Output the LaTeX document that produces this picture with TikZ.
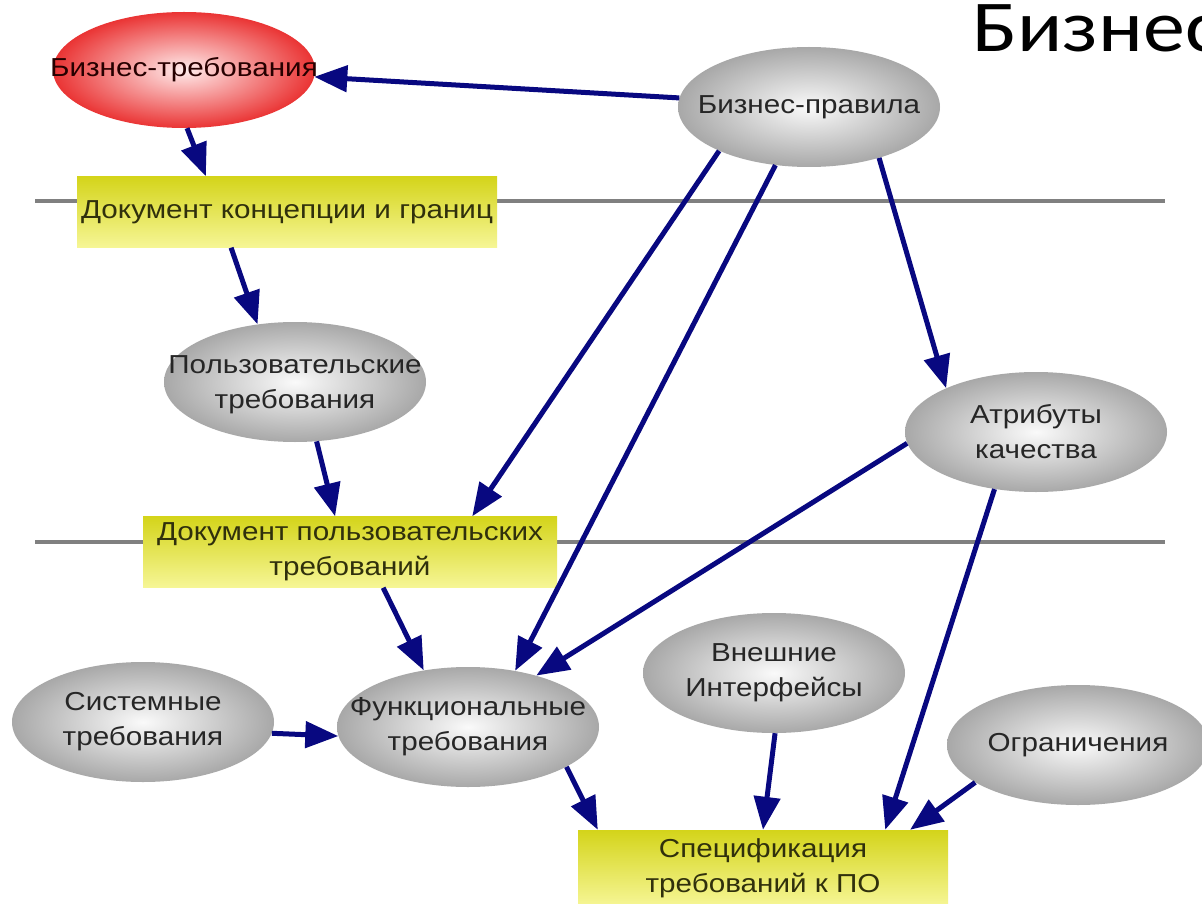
\documentclass[tikz,border=0pt]{standalone}
\usepackage{fontspec}
\setmainfont[FakeStretch=1.14]{Liberation Sans}
\newfontfamily\titlefont[FakeStretch=1.15]{Carlito}
\usetikzlibrary{shapes.geometric,arrows.meta,calc}
\definecolor{arrc}{RGB}{8,8,128}
\definecolor{sepc}{RGB}{128,128,128}
\definecolor{txtc}{RGB}{38,38,38}
\definecolor{boxtxt}{RGB}{48,48,12}
\definecolor{yla}{RGB}{212,212,26}
\definecolor{ylb}{RGB}{246,246,150}
\definecolor{grin}{RGB}{250,250,250}
\definecolor{grout}{RGB}{168,168,168}
\definecolor{rdin}{RGB}{255,236,236}
\definecolor{rdout}{RGB}{234,52,52}
\tikzset{
  grayell/.style={ellipse, minimum width=262pt, minimum height=120pt, inner sep=0pt,
    shading=radial, inner color=grin, outer color=grout},
  redell/.style={ellipse, minimum width=262pt, minimum height=116pt, inner sep=0pt,
    shading=radial, inner color=rdin, outer color=rdout},
  ybox/.style={rectangle, inner sep=0pt, top color=yla, bottom color=ylb,
    font=\fontsize{26}{35}\selectfont, text=boxtxt, align=center},
  lbl/.style={inner sep=0pt, font=\fontsize{26}{35}\selectfont, text=txtc, align=center},
  sepline/.style={draw=sepc, line width=4.5pt},
  conn/.style={draw=arrc, line width=5pt, -{Triangle[length=33pt,width=26pt]}},
}
\begin{document}
\begin{tikzpicture}[x=1pt,y=-1pt]
\useasboundingbox (0,0) rectangle (1202,904);
\fill[white] (0,0) rectangle (1202,904);
% separators
\draw[sepline] (35,201) -- (1165,201);
\draw[sepline] (35,542) -- (1165,542);
% title
\begin{scope}
\clip (0,0) rectangle (1202,904);
\node[anchor=base west, inner sep=0pt, font=\titlefont\fontsize{73}{80}\selectfont] (title) at (972,52) {Бизнес};
\end{scope}
% ellipses
\node[redell] (br) at (184,70) {};
\node[lbl, text=black!85!red] at (br) {Бизнес-требования};
\node[grayell] (bp) at (809,107) {};
\node[lbl] at (bp) {Бизнес-правила};
\node[grayell] (pt) at (295,382) {};
\node[lbl] at ($(pt)+(0,3)$) {Пользовательские\\требования};
\node[grayell] (at) at (1036,432) {};
\node[lbl] at (at) {Атрибуты\\качества};
\node[grayell] (st) at (143,722) {};
\node[lbl] at (st) {Системные\\требования};
\node[grayell] (fn) at (468,727) {};
\node[lbl] at (fn) {Функциональные\\требования};
\node[grayell] (vi) at (774,673) {};
\node[lbl] at (vi) {Внешние\\Интерфейсы};
\node[grayell] (og) at (1078,745) {};
\node[lbl] at (og) {Ограничения};
% boxes
\node[ybox, minimum width=420pt, minimum height=71pt] (dk) at (287,212) {Документ концепции и границ};
\node[ybox, minimum width=414pt, minimum height=71pt] (dp) at (350,552) {Документ пользовательских\\требований};
\node[ybox, minimum width=370pt, minimum height=76pt] (sp) at (763,868) {Спецификация\\требований к ПО};
% connectors
\draw[conn] (bp.176) -- (br.357);
\draw[conn] (br.-87) -- ($(dk.north west)!0.307!(dk.north east)$);
\draw[conn] ($(dk.south west)!0.367!(dk.south east)$) -- (pt.123);
\draw[conn] (pt.-70) -- ($(dp.north west)!0.464!(dp.north east)$);
\draw[conn] (bp.-154) -- ($(dp.north west)!0.795!(dp.north east)$);
\draw[conn] (bp.-120) -- (fn.50);
\draw[conn] (bp.-36) -- (at.154);
\draw[conn] (at.185) -- (fn.37);
\draw[conn] ($(dp.south west)!0.58!(dp.south east)$) -- (fn.128);
\draw[conn] (st.-5) -- (fn.184);
\draw[conn] (fn.-22) -- ($(sp.north west)!0.054!(sp.north east)$);
\draw[conn] (vi.-89) -- ($(sp.north west)!0.5!(sp.north east)$);
\draw[conn] (at.-126) -- ($(sp.north west)!0.83!(sp.north east)$);
\draw[conn] (og.200) -- ($(sp.north west)!0.897!(sp.north east)$);
\end{tikzpicture}
\end{document}
